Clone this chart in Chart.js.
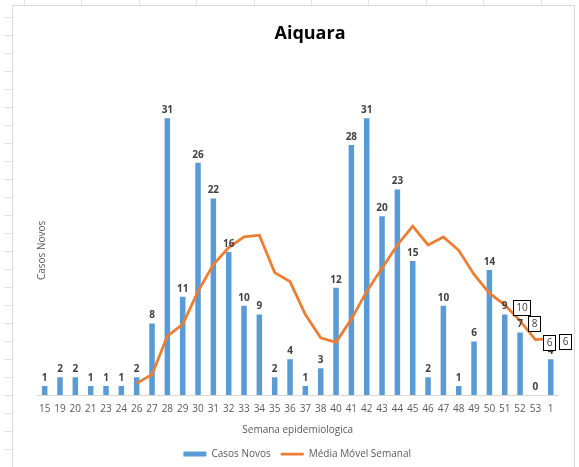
<!DOCTYPE html>
<html>
<head>
<meta charset="utf-8">
<script src="https://cdn.jsdelivr.net/npm/chart.js@4"></script>
<style>
  body{margin:0;width:579px;height:467px;overflow:hidden;position:relative;background:#fff;font-family:"Open Sans",sans-serif}
  #cells-left{position:absolute;left:4px;top:0;width:8px;height:467px;
    background:repeating-linear-gradient(to bottom,transparent 0 17px,#e3e3e3 17px 18px)}
  #cells-top{position:absolute;left:0;top:0;width:579px;height:5px;
    background:repeating-linear-gradient(to right,transparent 0 24px,#e3e3e3 24px 25px,transparent 25px 57.4px)}
  #frame{position:absolute;left:12px;top:5px;width:561px;height:470px;border:1px solid #d9d9d9;background:#fff}
  #title{position:absolute;left:227px;width:140px;top:15px;text-align:center;
    font:bold 18px "Open Sans",sans-serif;line-height:22px;color:#000}
  canvas{position:absolute;left:0;top:0}
</style>
</head>
<body>
<div id="cells-left"></div>
<div id="cells-top"></div>
<div id="frame">
  <canvas id="chart" width="561" height="463"></canvas>
  <div id="title">Aiquara</div>
</div>
<script>
const weeks = ["15","19","20","21","23","24","26","27","28","29","30","31","32","33","34","35","36",
               "37","38","40","41","42","43","44","45","46","47","48","49","50","51","52","53","1"];
const casosNovos = [1,2,2,1,1,1,2,8,31,11,26,22,16,10,9,2,4,1,3,12,28,31,20,23,15,2,10,1,6,14,9,7,0,4];
const mediaMovel = [null,null,null,null,null,null,1.3,2.3,6.6,7.9,11.6,14.6,16.5,17.7,17.9,13.7,12.7,
                    9.0,6.4,5.9,8.5,11.6,14.2,16.8,18.9,16.8,17.7,16.2,13.5,11.4,10.1,8.3,6.2,6.3];
// only the last four points of the moving average carry a boxed label
const boxedFrom = 30;

const valueLabels = {
  id: "valueLabels",
  afterDatasetsDraw(chart){
    const ctx = chart.ctx;
    ctx.save();
    ctx.font = "bold 10px 'Open Sans'";
    ctx.fillStyle = "#404040";
    ctx.textAlign = "center";
    ctx.textBaseline = "bottom";
    chart.getDatasetMeta(0).data.forEach((b, i) => {
      ctx.fillText(String(casosNovos[i]), b.x, b.y - 3);
    });

    const pts = chart.getDatasetMeta(1).data;
    ctx.font = "10px 'Open Sans'";
    ctx.textBaseline = "middle";
    for(let i = boxedFrom; i < pts.length; i++){
      const p = pts[i];
      const txt = String(Math.round(mediaMovel[i]));
      const w = Math.round(ctx.measureText(txt).width) + 6, h = 15;
      const x0 = Math.round(p.x + 8), y0 = Math.round(p.y + 2.5 - h / 2);
      ctx.fillStyle = "#fff";
      ctx.fillRect(x0, y0, w, h);
      ctx.strokeStyle = "#000";
      ctx.lineWidth = 1;
      ctx.strokeRect(x0 + .5, y0 + .5, w, h);
      ctx.fillStyle = "#404040";
      ctx.fillText(txt, x0 + w / 2 + .5, y0 + h / 2 + 1);
    }
    ctx.restore();
  }
};

new Chart(document.getElementById("chart"), {
  data: {
    labels: weeks,
    datasets: [
      {
        type: "bar",
        label: "Casos Novos",
        data: casosNovos,
        backgroundColor: "#5B9BD5",
        barPercentage: .36,
        categoryPercentage: 1,
        order: 1
      },
      {
        type: "line",
        label: "Média Móvel Semanal",
        data: mediaMovel,
        borderColor: "#ED7D31",
        backgroundColor: "#ED7D31",
        borderWidth: 2.75,
        pointRadius: 0,
        tension: 0,
        order: 0
      }
    ]
  },
  options: {
    responsive: false,
    animation: false,
    layout: {padding: {left: 23, right: 15.6, top: 76.4, bottom: 0}},
    plugins: {
      tooltip: {enabled: false},
      legend: {
        position: "bottom",
        labels: {
          color: "#595959",
          font: {family: "Open Sans", size: 10},
          usePointStyle: true,
          pointStyleWidth: 23,
          boxHeight: 5,
          padding: 10,
          sort: (a, b) => a.datasetIndex - b.datasetIndex,
          generateLabels(chart){
            const items = Chart.defaults.plugins.legend.labels.generateLabels(chart);
            items.forEach(it => { it.pointStyle = it.datasetIndex === 0 ? "rect" : "line"; });
            return items;
          }
        }
      }
    },
    scales: {
      x: {
        grid: {display: false, drawTicks: false},
        border: {color: "#d9d9d9"},
        ticks: {color: "#595959", font: {family: "Open Sans", size: 10}, padding: 8, maxRotation: 0, autoSkip: false},
        title: {display: true, text: "Semana epidemiologica", color: "#595959",
                font: {family: "Open Sans", size: 10}, padding: {top: 1, bottom: 3}}
      },
      y: {
        min: 0,
        max: 35,
        grid: {display: false, drawTicks: false},
        border: {display: false},
        ticks: {display: false},
        // trailing spaces push the visible words a little below the axis middle, as in the original
        title: {display: true, text: "Casos Novos         ", color: "#595959",
                font: {family: "Open Sans", size: 10}, padding: 0},
        afterFit(s){ s.width = 1; }
      }
    }
  },
  plugins: [valueLabels]
});
</script>
</body>
</html>
